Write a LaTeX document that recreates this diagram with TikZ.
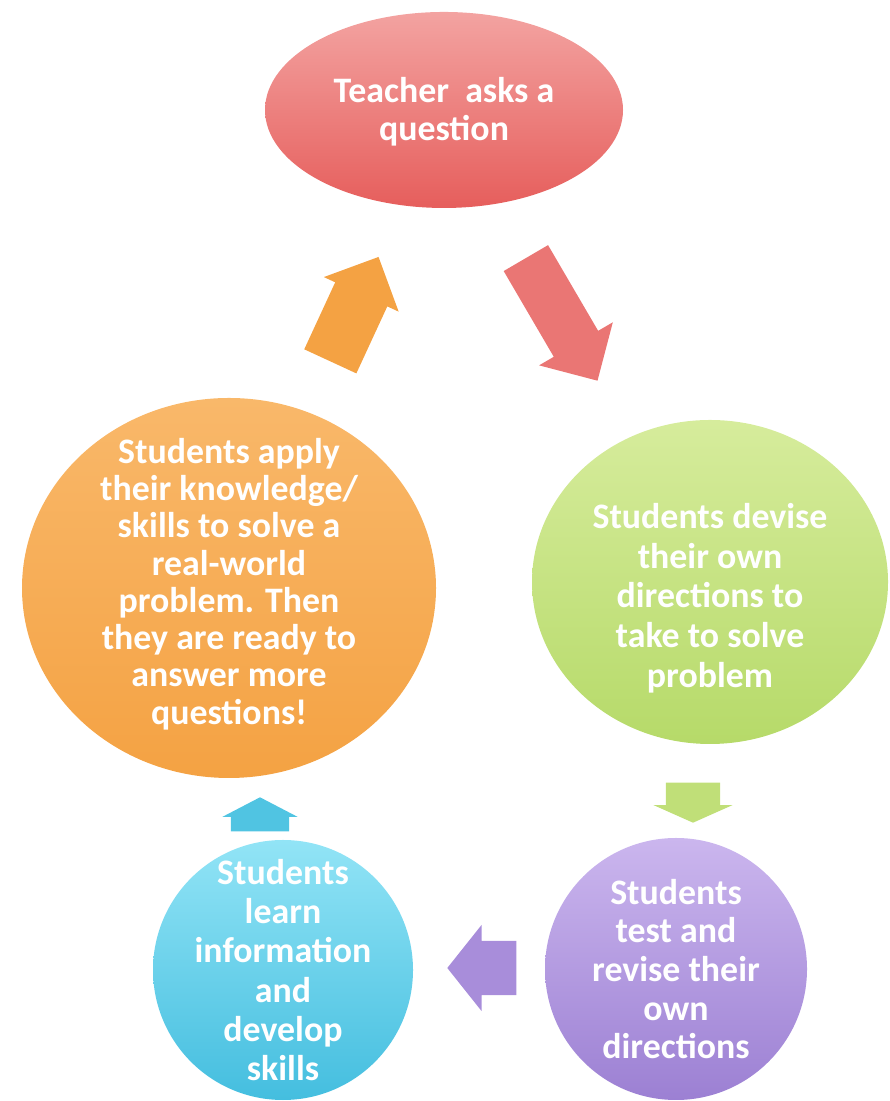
\documentclass[tikz,border=0pt]{standalone}
\usepackage{fontspec}
\setmainfont{Carlito}
\usepackage{tikz}
\usetikzlibrary{shapes.geometric,shapes.arrows}
\definecolor{askTop}{HTML}{F3A3A1}
\definecolor{askBot}{HTML}{E65E5C}
\definecolor{applyTop}{HTML}{F9B86A}
\definecolor{applyBot}{HTML}{F4A243}
\definecolor{deviseTop}{HTML}{D6EC9C}
\definecolor{deviseBot}{HTML}{B6DA69}
\definecolor{testTop}{HTML}{CBB6EE}
\definecolor{testBot}{HTML}{9C80D3}
\definecolor{learnTop}{HTML}{92E4F6}
\definecolor{learnBot}{HTML}{44BEDF}

\begin{document}
\begin{tikzpicture}[font=\bfseries\fontsize{10.2}{10.9}\selectfont,
    stage/.style={ellipse,inner sep=0pt,draw=none},
    words/.style={text=white,align=center,inner sep=0pt},
    flow/.style={single arrow,inner xsep=0pt,draw=none,anchor=tail}]
    \useasboundingbox (0,0) rectangle (8.89,11.01);

    % the five stages
    \node[stage,top color=askTop,bottom color=askBot,
      minimum width=3.58cm,minimum height=1.96cm] (ask) at (4.44,9.91) {};
    \node[words] (askText) at ([yshift=-0.02cm]ask.center) {Teacher\ \ asks a\\question};

    \node[stage,top color=deviseTop,bottom color=deviseBot,
      minimum width=3.56cm,minimum height=3.24cm] (devise) at (7.10,5.19) {};
    \node[words,font=\bfseries\fontsize{10.2}{11.3}\selectfont] (deviseText)
      at ([yshift=-0.16cm]devise.center)
      {Students devise\\their own\\directions to\\take to solve\\problem};

    \node[stage,top color=testTop,bottom color=testBot,
      minimum width=2.62cm,minimum height=2.62cm] (test) at (6.76,1.32) {};
    \node[words,font=\bfseries\fontsize{10.2}{11}\selectfont] (testText) at (test)
      {Students\\test and\\revise their\\own\\directions};

    \node[stage,top color=learnTop,bottom color=learnBot,
      minimum width=2.60cm,minimum height=2.60cm] (learn) at (2.83,1.31) {};
    \node[words,font=\bfseries\fontsize{10.2}{11.2}\selectfont] (learnText) at (learn)
      {Students\\learn\\information\\and\\develop\\skills};

    \node[stage,top color=applyTop,bottom color=applyBot,
      minimum width=4.14cm,minimum height=3.80cm] (apply) at (2.29,5.13) {};
    \node[words,font=\bfseries\fontsize{10.2}{10.6}\selectfont] (applyText)
      at ([yshift=0.04cm]apply.center)
      {Students apply\\their knowledge/\\skills to solve a\\real-world\\problem. Then\\they are ready to\\answer more\\questions!};

    % block arrows between the stages, placed by their tails
    \node[flow,fill=askBot!85,rotate=-59.7,minimum height=1.42cm,
      inner ysep=0.25cm,single arrow head extend=0.17cm] (askToDevise) at (5.255,8.435) {};
    \node[flow,fill=deviseBot!70!deviseTop,rotate=-90,minimum height=0.40cm,
      inner ysep=0.265cm,single arrow head extend=0.125cm,
      single arrow tip angle=132] (deviseToTest) at (6.93,3.19) {};
    \node[flow,fill=testBot!75!testTop,rotate=180,minimum height=0.69cm,
      inner ysep=0.265cm,single arrow head extend=0.16cm,
      single arrow tip angle=103] (testToLearn) at (5.17,1.33) {};
    \node[flow,fill=learnBot!85!learnTop,rotate=90,minimum height=0.34cm,
      inner ysep=0.285cm,single arrow head extend=0.085cm,
      single arrow tip angle=125] (learnToApply) at (2.60,2.69) {};
    \node[flow,fill=applyBot,rotate=65.2,minimum height=1.15cm,
      inner ysep=0.28cm,single arrow head extend=0.125cm] (applyToAsk) at (3.30,7.39) {};
  \end{tikzpicture}
\end{document}
